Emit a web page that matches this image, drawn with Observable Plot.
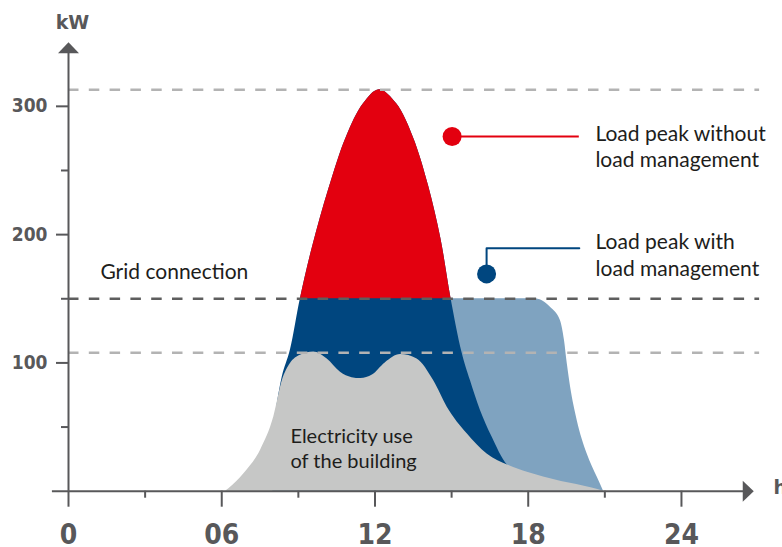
<!DOCTYPE html>
<html>
<head>
<meta charset="utf-8">
<script src="https://cdn.jsdelivr.net/npm/d3@7"></script>
<script src="https://cdn.jsdelivr.net/npm/@observablehq/plot@0.6"></script>
<style>
  html, body { margin: 0; padding: 0; background: #ffffff; }
  #chart svg { display: block; }
</style>
</head>
<body>
<div id="chart"></div>
<script>
// ---- Data ----
// Electricity use of the building (grey)
const hoursBuilding = [6.15, 6.28, 6.86, 7.52, 8.04, 8.37, 8.69, 9.08, 9.6, 10.13, 10.65, 11.1, 11.45, 11.9, 12.4, 13.0, 13.65, 14.3, 14.83, 15.61, 16.39, 17.24, 18.0, 18.6, 19.3, 19.9, 20.5, 20.95];
const kwBuilding    = [0, 2, 13.5, 32, 58, 86, 99.5, 106, 108.5, 103, 92.7, 88.5, 87.8, 90.5, 100, 106.5, 103, 86, 65.5, 44.7, 29, 20, 14.5, 11, 7.5, 5.2, 2.5, 0];

// Load without load management (red above grid limit, dark blue below)
const hoursNoMgmt = [8.0, 8.37, 8.69, 9.08, 9.55, 10.2, 10.88, 11.55, 12.17, 12.85, 13.5, 14.1, 14.58, 14.98, 15.41, 15.74, 16.13, 16.59, 17.2, 17.8];
const kwNoMgmt    = [45, 89, 110, 150, 190, 236, 276, 302, 313, 302, 276, 238, 197, 150, 108, 86, 63, 42, 20, 12];

// Load with load management (light blue, shifted)
const hoursMgmt = [9.5, 9.9, 12, 15, 17, 18.22, 18.55, 18.87, 19.26, 19.42, 19.53, 19.66, 19.92, 20.31, 20.7, 20.95];
const kwMgmt    = [0, 150, 150, 150, 150, 150, 148.5, 143.4, 133, 117.5, 99.3, 81, 55, 29, 11, 0];

// Reference levels (kW)
const peakNoMgmt = 313;
const gridConnection = 150;
const peakBuilding = 108;

// Axes
const xMajorTicks = [0, 6, 12, 18, 24];
const xTickLabels = ["0", "06", "12", "18", "24"];
const xMinorTicks = [3, 9, 15, 21];
const yMajorTicks = [100, 200, 300];
const yTickLabels = ["100", "200", "300"];
const yMinorTicks = [50, 150, 250];

// Texts
const labelNoMgmt = "Load peak without\nload management";
const labelMgmt = "Load peak with\nload management";
const labelGrid = "Grid connection";
const labelBuilding = "Electricity use\nof the building";

// ---- Build tables ----
const building = hoursBuilding.map((h, i) => ({h, kw: kwBuilding[i]}));
const noMgmt = hoursNoMgmt.map((h, i) => ({h, kw: kwNoMgmt[i]}));
const mgmt = hoursMgmt.map((h, i) => ({h, kw: kwMgmt[i]}));

// ---- Styles ----
const RED = "#e3000f";
const DARKBLUE = "#00467f";
const LIGHTBLUE = "#7fa3c0";
const GREY = "#c6c7c6";
const AXIS = "#58585a";
const TEXT = "#1d1d1b";
const BODYFONT = "Lato, 'Open Sans', sans-serif";
const TICKFONT = "'DejaVu Sans Condensed', 'DejaVu Sans', sans-serif";

const arrowHead = {
  draw(ctx) {
    ctx.moveTo(0, 0);
    ctx.lineTo(10.5, 11);
    ctx.lineTo(-10.5, 11);
    ctx.closePath();
  }
};

const chart = Plot.plot({
  width: 782,
  height: 547,
  marginLeft: 68,
  marginRight: 11.65,
  marginTop: 41.7,
  marginBottom: 56.3,
  x: {domain: [0, 27.5]},
  y: {domain: [0, 350]},
  style: {background: "#ffffff", fontFamily: BODYFONT},
  marks: [
    Plot.areaY(mgmt, {x: "h", y: "kw", fill: LIGHTBLUE, curve: "monotone-x"}),
    Plot.areaY(noMgmt, {x: "h", y: "kw", fill: DARKBLUE, curve: "catmull-rom"}),
    Plot.areaY(noMgmt, {x: "h", y: "kw", fill: RED, curve: "catmull-rom", className: "red-peak"}),
    Plot.areaY(building, {x: "h", y: "kw", fill: GREY, curve: "monotone-x"}),

    // reference dashed lines
    Plot.ruleY([peakNoMgmt, peakBuilding], {x1: 0, x2: 27.06, stroke: "#b3b3b3", strokeWidth: 2.5, strokeDasharray: "10.5,10.3"}),
    Plot.ruleY([gridConnection], {x1: 0, x2: 27.06, stroke: "#5e5e5e", strokeWidth: 2.5, strokeDasharray: "10.5,10.3"}),

    // axis ticks
    Plot.axisX({ticks: xMajorTicks, tickSize: 16, tickFormat: () => "", stroke: AXIS, strokeWidth: 2}),
    Plot.axisX({ticks: xMinorTicks, tickSize: 7, tickFormat: () => "", stroke: AXIS, strokeWidth: 2}),
    Plot.axisY({ticks: yMajorTicks, tickSize: 12, tickFormat: () => "", stroke: AXIS, strokeWidth: 2}),
    Plot.axisY({ticks: yMinorTicks, tickSize: 7, tickFormat: () => "", stroke: AXIS, strokeWidth: 2}),

    // axis lines and arrows
    Plot.ruleY([0], {x1: -0.63, x2: 26.5, stroke: AXIS, strokeWidth: 2}),
    Plot.ruleX([0], {y1: 0, y2: 342, stroke: AXIS, strokeWidth: 2}),
    Plot.dot([{x: 0, y: 350}], {x: "x", y: "y", symbol: arrowHead, r: 10, fill: AXIS, stroke: null}),
    Plot.dot([{x: 26.83, y: 0}], {x: "x", y: "y", symbol: arrowHead, r: 10, fill: AXIS, stroke: null, rotate: 90}),

    // tick labels
    Plot.text(xMajorTicks, {x: d => d, y: 0, text: (d, i) => xTickLabels[i], dy: 44, fontSize: 28, fontWeight: "bold", fontFamily: TICKFONT, fill: AXIS}),
    Plot.text(yMajorTicks, {x: 0, y: d => d, text: (d, i) => yTickLabels[i], dx: -21, textAnchor: "end", fontSize: 19, fontWeight: "bold", fontFamily: TICKFONT, fill: AXIS}),

    // axis units
    Plot.text(["kW"], {x: 0, y: 350, dx: 4, dy: -18.8, fontSize: 19, fontWeight: "bold", fontFamily: "'DejaVu Sans', sans-serif", fill: AXIS}),
    Plot.text(["h"], {x: 27.5, y: 0, dx: 2.6, dy: -2.8, textAnchor: "start", fontSize: 19, fontWeight: "bold", fontFamily: "'DejaVu Sans', sans-serif", fill: AXIS}),

    // annotations
    Plot.ruleY([276.5], {x1: 15.02, x2: 20.0, stroke: RED, strokeWidth: 2}),
    Plot.dot([{x: 15.02, y: 276.5}], {x: "x", y: "y", r: 9.5, fill: RED}),
    Plot.text([labelNoMgmt], {x: 15.02, y: 276.5, dx: 143.3, dy: -14.3, textAnchor: "start", lineAnchor: "top", lineHeight: 1.25, fontSize: 21, fontFamily: BODYFONT, fill: TEXT}),

    Plot.line([{x: 16.37, y: 169.4}, {x: 16.37, y: 189.4}, {x: 20.0, y: 189.4}], {x: "x", y: "y", stroke: DARKBLUE, strokeWidth: 2}),
    Plot.dot([{x: 16.37, y: 169.4}], {x: "x", y: "y", r: 9.5, fill: DARKBLUE}),
    Plot.text([labelMgmt], {x: 16.37, y: 169.4, dx: 109, dy: -43.2, textAnchor: "start", lineAnchor: "top", lineHeight: 1.25, fontSize: 21, fontFamily: BODYFONT, fill: TEXT}),

    Plot.text([labelGrid], {x: 1.25, y: 170.5, textAnchor: "start", fontSize: 21, fontFamily: BODYFONT, fill: TEXT}),
    Plot.text([labelBuilding], {x: 8.69, y: 51.3, textAnchor: "start", lineAnchor: "top", lineHeight: 1.25, fontSize: 20, fontFamily: BODYFONT, fill: TEXT})
  ]
});

// clip the red area to the part above the grid connection limit
(function () {
  const svg = chart.tagName.toLowerCase() === "svg" ? chart : chart.querySelector("svg");
  const sy = chart.scale("y");
  let yCut = (sy && typeof sy.apply === "function") ? sy.apply(gridConnection) : NaN;
  if (!isFinite(yCut)) yCut = d3.scaleLinear(sy.domain, sy.range)(gridConnection);
  if (!isFinite(yCut)) return;
  const ns = "http://www.w3.org/2000/svg";
  const defs = document.createElementNS(ns, "defs");
  const cp = document.createElementNS(ns, "clipPath");
  cp.setAttribute("id", "above-grid-limit");
  cp.setAttribute("clipPathUnits", "userSpaceOnUse");
  const rect = document.createElementNS(ns, "rect");
  rect.setAttribute("x", "0");
  rect.setAttribute("y", "0");
  rect.setAttribute("width", "782");
  rect.setAttribute("height", String(yCut));
  cp.appendChild(rect);
  defs.appendChild(cp);
  svg.appendChild(defs);
  let g = svg.querySelector("g.red-peak");
  if (!g) {
    g = Array.from(svg.querySelectorAll("g")).find(el => (el.getAttribute("fill") || "").toLowerCase() === RED && el.querySelector("path") && !el.querySelector("circle"));
  }
  if (g) g.setAttribute("clip-path", "url(#above-grid-limit)");
})();

document.getElementById("chart").appendChild(chart);
</script>
</body>
</html>
